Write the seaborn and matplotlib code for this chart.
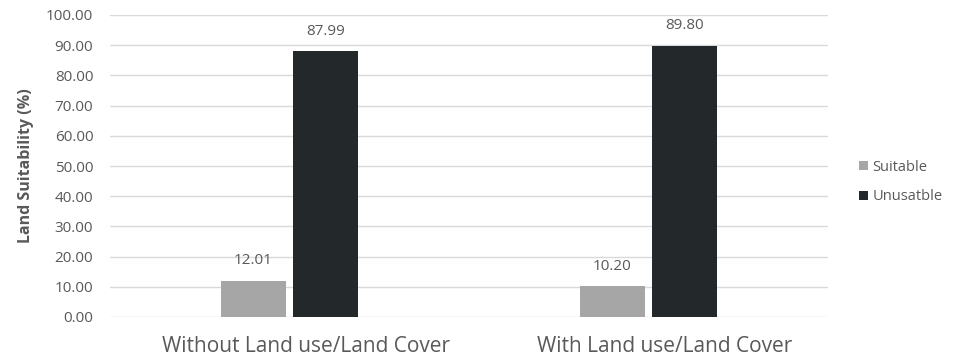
import matplotlib
matplotlib.use("Agg")
import matplotlib.pyplot as plt
import matplotlib.transforms as mtransforms
import seaborn as sns
import pandas as pd
from matplotlib.patches import Patch

categories = ["Without Land use/Land Cover", "With Land use/Land Cover"]
series = ["Suitable", "Unusatble"]
suitable = [12.01, 10.20]
unsuitable = [87.99, 89.80]
yticks = [0, 10, 20, 30, 40, 50, 60, 70, 80, 90, 100]

df = pd.DataFrame({
    "cat": categories * 2,
    "series": [series[0]] * 2 + [series[1]] * 2,
    "value": suitable + unsuitable,
})

sns.set_theme(style="white")
plt.rcParams['font.family'] = ['Open Sans', 'DejaVu Sans']
text_col = "#595959"
colors = {"Suitable": "#a6a6a6", "Unusatble": "#23282b"}

fig = plt.figure(figsize=(9.61, 3.62), dpi=100)
ax = fig.add_axes([110/961, 1-317/362, (828-110)/961, (317-15)/362])

sns.barplot(data=df, x="cat", y="value", hue="series", order=categories,
            hue_order=series, palette=colors, width=0.405, gap=0.11,
            ax=ax, legend=False, saturation=1, linewidth=0, edgecolor="none")

ax.set_ylim(0, 100)
ax.set_yticks(yticks)
ax.set_yticklabels([f"{v:.2f}" for v in yticks], fontsize=11, color=text_col)
ax.yaxis.grid(True, color="#d9d9d9", linewidth=1)
ax.set_axisbelow(True)
for s in ax.spines.values():
    s.set_visible(False)
ax.tick_params(axis="y", length=0, pad=12)
ax.tick_params(axis="x", length=0, pad=14)
ax.set_xticks(range(len(categories)))
ax.set_xticklabels(categories, fontsize=15, color=text_col)
offset = mtransforms.ScaledTranslation(16/100, 0, fig.dpi_scale_trans)
for lbl in ax.get_xticklabels():
    lbl.set_transform(lbl.get_transform() + offset)
ax.set_xlabel("")
ax.set_ylabel("Land Suitability (%)", fontsize=11.5, color=text_col, fontweight="bold", labelpad=9)

for cont in ax.containers:
    ax.bar_label(cont, labels=[f"{v:.2f}" for v in cont.datavalues], padding=9,
                 fontsize=11, color=text_col)

handles = [Patch(facecolor=colors[s], edgecolor="none") for s in series]
leg = fig.legend(handles, series, loc="center left", bbox_to_anchor=(846/961, 1-182/362),
                 frameon=False, fontsize=10.5, handlelength=0.6, handleheight=0.6,
                 handletextpad=0.3, labelspacing=1.0)
for t in leg.get_texts():
    t.set_color(text_col)

fig.savefig("out.png", dpi=100)
